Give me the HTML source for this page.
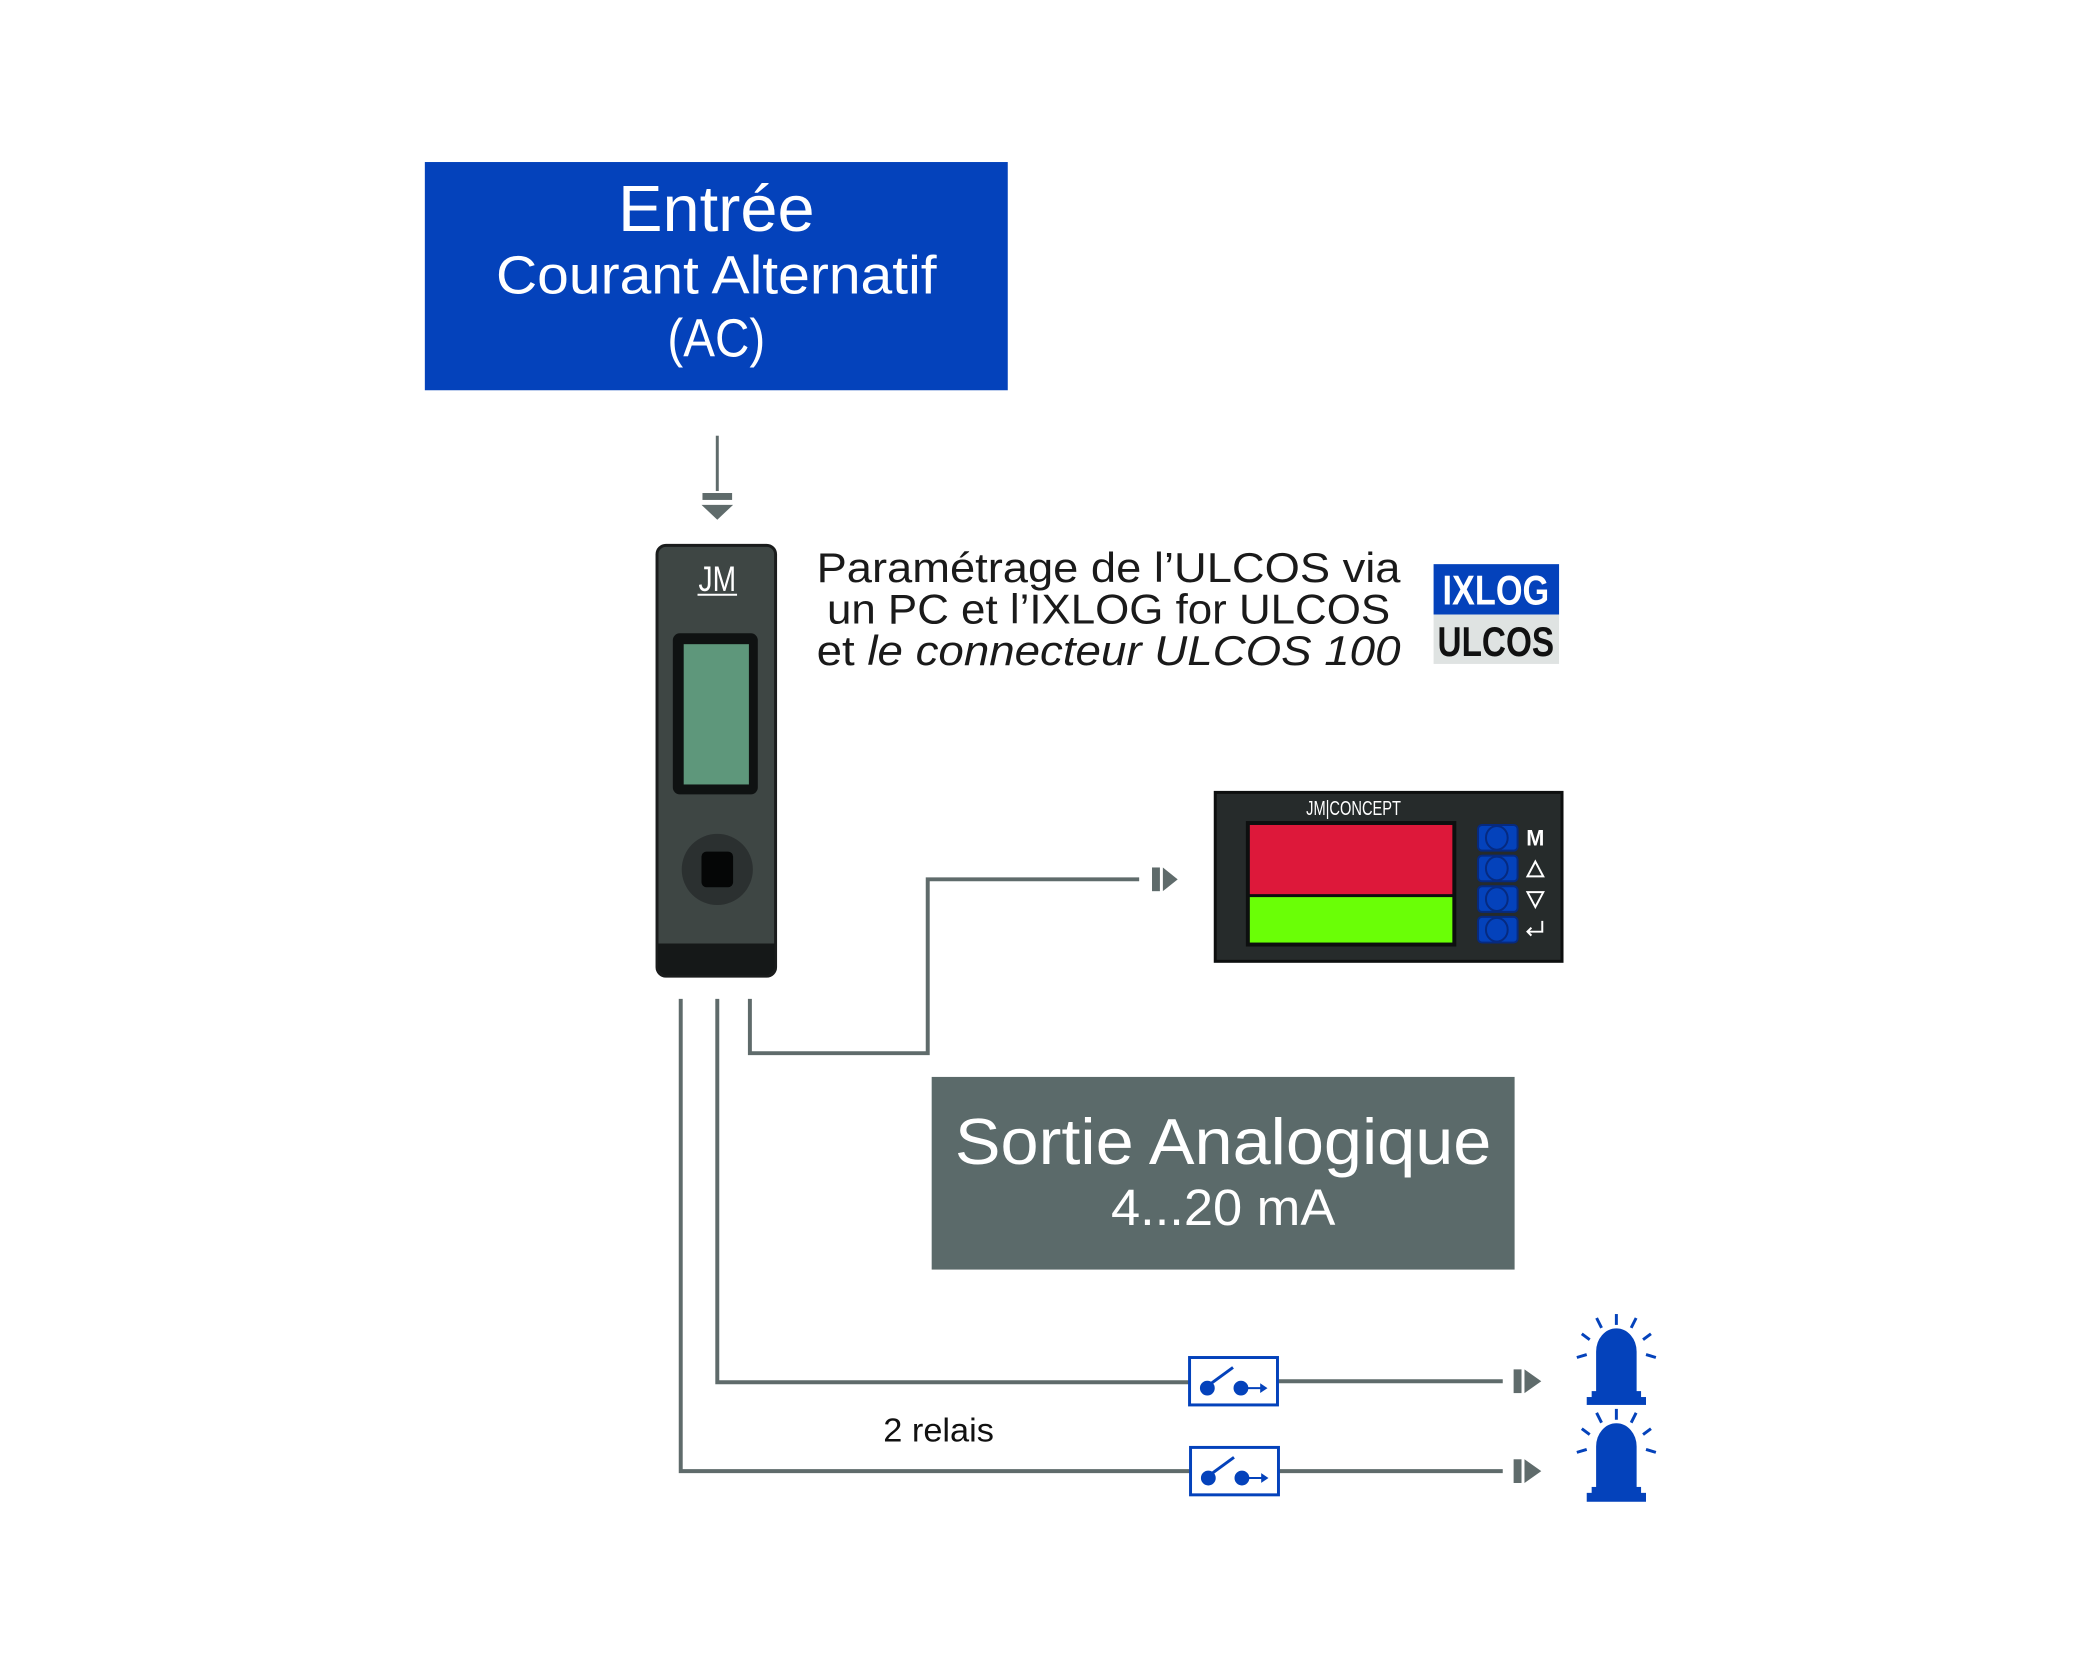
<!DOCTYPE html>
<html><head><meta charset="utf-8"><style>
html,body{margin:0;padding:0;background:#fff;}
svg{display:block;}
text{font-family:"Liberation Sans",sans-serif;}
</style></head><body>
<svg width="2083" height="1667" viewBox="0 0 2083 1667" xmlns="http://www.w3.org/2000/svg">
<rect width="2083" height="1667" fill="#fff"/>
<g transform="scale(0.988)">
<!-- Entree box -->
<rect x="430" y="164" width="590" height="231" fill="#0442bb"/>
<text x="725" y="234" font-size="66" fill="#fff" text-anchor="middle" textLength="199" lengthAdjust="spacingAndGlyphs">Entrée</text>
<text x="725" y="297" font-size="54" fill="#fff" text-anchor="middle" textLength="446" lengthAdjust="spacingAndGlyphs">Courant Alternatif</text>
<text x="725" y="361" font-size="54" fill="#fff" text-anchor="middle" textLength="99" lengthAdjust="spacingAndGlyphs">(AC)</text>
<!-- input arrow -->
<line x1="726" y1="441" x2="726" y2="497" stroke="#5f6b6b" stroke-width="3"/>
<rect x="711" y="499" width="30" height="7" fill="#5f6b6b"/>
<polygon points="710,511 742,511 726,526" fill="#5f6b6b"/>
<!-- device -->
<rect x="665" y="552" width="120" height="436" rx="9" fill="#3e4644" stroke="#1a1c1c" stroke-width="3"/>
<path d="M666,955 H784 V978 a9,9 0 0 1 -9,9 H675 a9,9 0 0 1 -9,-9 Z" fill="#151818"/>
<text x="726" y="598" font-size="36" fill="#fff" text-anchor="middle" textLength="38" lengthAdjust="spacingAndGlyphs">JM</text>
<line x1="706" y1="602" x2="746" y2="602" stroke="#fff" stroke-width="2"/>
<rect x="681" y="641" width="86" height="163" rx="7" fill="#0f1212"/>
<rect x="692" y="652" width="66" height="142" fill="#5e977b"/>
<ellipse cx="726" cy="880" rx="36" ry="36" fill="#2b3030"/>
<rect x="710" y="862" width="32" height="36" rx="5" fill="#050606"/>
<!-- parametrage text -->
<text x="1122" y="589" font-size="42" fill="#1a1a1a" text-anchor="middle" textLength="591" lengthAdjust="spacingAndGlyphs">Paramétrage de l’ULCOS via</text>
<text x="1122" y="631" font-size="42" fill="#1a1a1a" text-anchor="middle" textLength="570" lengthAdjust="spacingAndGlyphs">un PC et l’IXLOG for ULCOS</text>
<text x="1122" y="673" font-size="42" fill="#1a1a1a" text-anchor="middle" textLength="591" lengthAdjust="spacingAndGlyphs">et <tspan font-style="italic">le connecteur ULCOS 100</tspan></text>
<!-- logo -->
<rect x="1451" y="571" width="127" height="51" fill="#0442bb"/>
<rect x="1451" y="622" width="127" height="50" fill="#dfe3e2"/>
<text x="1514" y="612" font-size="42" fill="#fff" font-weight="bold" text-anchor="middle" textLength="108" lengthAdjust="spacingAndGlyphs">IXLOG</text>
<text x="1514" y="664" font-size="42" fill="#111" font-weight="bold" text-anchor="middle" textLength="118" lengthAdjust="spacingAndGlyphs">ULCOS</text>
<!-- display -->
<rect x="1230" y="802" width="351" height="171" fill="#262b2b" stroke="#0d0f0f" stroke-width="3"/>
<text x="1370" y="825" font-size="21" fill="#fff" text-anchor="middle" textLength="96" lengthAdjust="spacingAndGlyphs">JM|CONCEPT</text>
<rect x="1261" y="831" width="213" height="127" fill="#0d0f0f"/>
<rect x="1265" y="835" width="205" height="70" fill="#dd183a"/>
<rect x="1265" y="908" width="205" height="46" fill="#6aff06"/>
<g fill="#0442bb" stroke="#062a80" stroke-width="2">
<rect x="1496" y="835" width="40" height="26" rx="4"/>
<rect x="1496" y="866" width="40" height="26" rx="4"/>
<rect x="1496" y="897" width="40" height="26" rx="4"/>
<rect x="1496" y="928" width="40" height="26" rx="4"/>
</g>
<g fill="none" stroke="#062a80" stroke-width="2">
<ellipse cx="1515" cy="848" rx="11" ry="12"/><ellipse cx="1515" cy="879" rx="11" ry="12"/>
<ellipse cx="1515" cy="910" rx="11" ry="12"/><ellipse cx="1515" cy="941" rx="11" ry="12"/>
</g>
<text x="1554" y="856" font-size="22" fill="#fff" font-weight="bold" text-anchor="middle">M</text>
<polygon points="1554,872 1562,887 1546,887" fill="none" stroke="#fff" stroke-width="2"/>
<polygon points="1546,903 1562,903 1554,918" fill="none" stroke="#fff" stroke-width="2"/>
<path d="M1561,932 V943 H1546 M1550,939 L1546,943 L1550,947" fill="none" stroke="#fff" stroke-width="2"/>
<!-- analog connector -->
<polyline points="759,1011 759,1066 939,1066 939,890 1153,890" fill="none" stroke="#5f6b6b" stroke-width="4"/>
<rect x="1166" y="878" width="8" height="24" fill="#5f6b6b"/>
<polygon points="1177,878 1177,902 1192,890" fill="#5f6b6b"/>
<!-- Sortie box -->
<rect x="943" y="1090" width="590" height="195" fill="#5b6a6a"/>
<text x="1238" y="1178" font-size="66" fill="#fff" text-anchor="middle" textLength="543" lengthAdjust="spacingAndGlyphs">Sortie Analogique</text>
<text x="1238" y="1240" font-size="52" fill="#fff" text-anchor="middle" textLength="227" lengthAdjust="spacingAndGlyphs">4...20 mA</text>
<!-- relay lines -->
<polyline points="726,1011 726,1399 1203,1399" fill="none" stroke="#5f6b6b" stroke-width="4"/>
<line x1="1293" y1="1398" x2="1521" y2="1398" stroke="#5f6b6b" stroke-width="4"/>
<polyline points="689,1011 689,1489 1204,1489" fill="none" stroke="#5f6b6b" stroke-width="4"/>
<line x1="1294" y1="1489" x2="1521" y2="1489" stroke="#5f6b6b" stroke-width="4"/>
<g fill="#5f6b6b">
<rect x="1532" y="1386" width="8" height="24"/><polygon points="1543,1386 1543,1410 1560,1398"/>
<rect x="1532" y="1477" width="8" height="24"/><polygon points="1543,1477 1543,1501 1560,1489"/>
</g>
<!-- relay boxes -->
<g fill="#fff" stroke="#0442bb" stroke-width="3">
<rect x="1204" y="1374" width="89" height="48"/>
<rect x="1205" y="1465" width="89" height="48"/>
</g>
<g fill="#0442bb" stroke="#0442bb">
<circle cx="1222" cy="1405" r="7"/><circle cx="1256" cy="1405" r="7"/>
<line x1="1222" y1="1403" x2="1248" y2="1384" stroke-width="3"/>
<line x1="1256" y1="1405" x2="1280" y2="1405" stroke-width="2"/><polygon points="1282,1405 1276,1401 1276,1409"/>
<circle cx="1223" cy="1496" r="7"/><circle cx="1257" cy="1496" r="7"/>
<line x1="1223" y1="1494" x2="1249" y2="1475" stroke-width="3"/>
<line x1="1257" y1="1496" x2="1281" y2="1496" stroke-width="2"/><polygon points="1283,1496 1277,1492 1277,1500"/>
</g>
<text x="894" y="1459" font-size="34" fill="#111" textLength="112" lengthAdjust="spacingAndGlyphs">2 relais</text>
<!-- beacons -->
<g fill="#0442bb" stroke="#0442bb" stroke-width="3">
<path d="M1617,1410 V1368 a19,22 0 0 1 38,0 V1410 Z"/>
<rect x="1611" y="1408" width="50" height="7" stroke="none"/><rect x="1606" y="1414" width="60" height="8" stroke="none"/>
<line x1="1636" y1="1330" x2="1636" y2="1341"/><line x1="1616" y1="1334" x2="1621" y2="1344"/><line x1="1656" y1="1334" x2="1651" y2="1344"/>
<line x1="1601" y1="1350" x2="1609" y2="1356"/><line x1="1671" y1="1350" x2="1663" y2="1356"/>
<line x1="1596" y1="1374" x2="1606" y2="1371"/><line x1="1676" y1="1374" x2="1666" y2="1371"/>
<path d="M1617,1507 V1464 a19,22 0 0 1 38,0 V1507 Z"/>
<rect x="1611" y="1505" width="50" height="7" stroke="none"/><rect x="1606" y="1511" width="60" height="9" stroke="none"/>
<line x1="1636" y1="1426" x2="1636" y2="1437"/><line x1="1616" y1="1430" x2="1621" y2="1440"/><line x1="1656" y1="1430" x2="1651" y2="1440"/>
<line x1="1601" y1="1446" x2="1609" y2="1452"/><line x1="1671" y1="1446" x2="1663" y2="1452"/>
<line x1="1596" y1="1470" x2="1606" y2="1467"/><line x1="1676" y1="1470" x2="1666" y2="1467"/>
</g>
</g>
</svg>
</body></html>
